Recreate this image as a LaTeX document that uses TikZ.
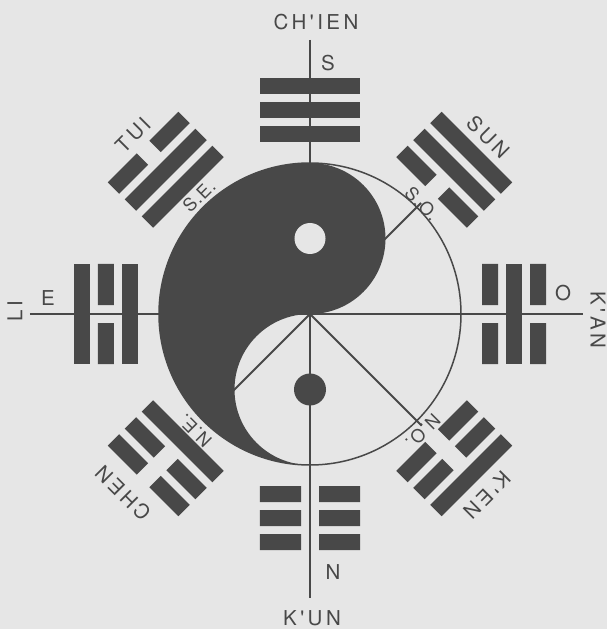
\documentclass[tikz,border=0pt]{standalone}
\usepackage{fontspec}
\setmainfont{TeX Gyre Heros}
\newfontfamily\spacedfont{TeX Gyre Heros}[LetterSpace=17]
\newfontfamily\smallspaced{TeX Gyre Heros}[LetterSpace=6]
\definecolor{ink}{RGB}{72,72,72}
\definecolor{paper}{RGB}{230,230,230}
\tikzset{
  lbl/.style={font=\spacedfont\fontsize{20.5}{24}\selectfont, text=ink, inner sep=0pt},
  dirlbl/.style={font=\spacedfont\fontsize{20.5}{24}\selectfont, text=ink, inner sep=0pt},
  sml/.style={font=\smallspaced\fontsize{18}{21}\selectfont, text=ink, inner sep=0pt},
  axisline/.style={draw=ink, line width=2pt},
  rimline/.style={draw=ink, line width=1.5pt},
}
% one bar of a trigram: radius, solid (1) or broken (0)
\newcommand\mybar[2]{%
  \ifnum#2=1
    \fill[ink] (-50,#1-8) rectangle (50,#1+8);
  \else
    \fill[ink] (-50,#1-8) rectangle (-9,#1+8) (9,#1-8) rectangle (50,#1+8);
  \fi}
% trigram: outward angle, inner, middle, outer
\newcommand\mytrigram[4]{%
  \begin{scope}[rotate=#1-90]
    \mybar{180}{#2}\mybar{204}{#3}\mybar{228}{#4}
  \end{scope}}
\begin{document}
\begin{tikzpicture}[x=1pt,y=1pt]
\fill[paper] (-310,-315) rectangle (297,314);
\useasboundingbox (-310,-315) rectangle (297,314);

% trigrams (Fu Xi order)
\mytrigram{90}{1}{1}{1}   % CH'IEN
\mytrigram{135}{1}{1}{0}  % TUI
\mytrigram{180}{1}{0}{1}  % LI
\mytrigram{225}{1}{0}{0}  % CHEN
\mytrigram{270}{0}{0}{0}  % K'UN
\mytrigram{315}{0}{0}{1}  % K'EN
\mytrigram{0}{0}{1}{0}    % K'AN
\mytrigram{45}{0}{1}{1}   % SUN

% yin-yang
\fill[ink] (0,151) arc[start angle=90, end angle=270, radius=151]
  arc[start angle=270, end angle=90, radius=75.5]
  arc[start angle=-90, end angle=90, radius=75.5] -- cycle;
\draw[rimline] (0,0) circle[radius=151];

% axes
\coordinate (c) at (0,0);
\coordinate (top) at (0,274);
\coordinate (bot) at (0,-284);
\coordinate (lft) at (-280,0);
\coordinate (rgt) at (273,0);
\coordinate (ur) at (45:157);
\coordinate (lr) at (-45:158);
\coordinate (ll) at (225:150);
\draw[axisline] (top) -- (bot);
\draw[axisline] (lft) -- (rgt);
\draw[axisline] (c) -- (ur);
\draw[axisline] (c) -- (lr);
\draw[axisline] (c) -- (ll);

% dots
\fill[paper] (0,75.5) circle[radius=15.5];
\fill[ink] (0,-75.5) circle[radius=16];

% trigram names
\node[lbl] (chien) at (6,292) {CH'IEN};
\node[lbl] (kun) at (2,-304) {K'UN};
\node[lbl, rotate=90] (li) at (-295,3) {LI};
\node[lbl, rotate=-90] (kan) at (288,-6) {K'AN};
\node[lbl, rotate=45] (tui) at (-177,179) {TUI};
\node[lbl, rotate=-45] (sun) at (178,177) {SUN};
\node[lbl, rotate=135] (chen) at (-187,-179) {CHEN};
\node[lbl, rotate=-135] (ken) at (177,-181) {K'EN};

% directions
\node[dirlbl] (s) at (18,251) {S};
\node[dirlbl] (n) at (23,-258) {N};
\node[dirlbl] (e) at (-262,16) {E};
\node[dirlbl] (o) at (253,21) {O};
\node[sml, rotate=45] (se) at (-111,118) {S.E.};
\node[sml, rotate=-45] (so) at (112,110) {S.O.};
\node[sml, rotate=-135] (no) at (113,-117) {N.O.};
\node[sml, rotate=135] (ne) at (-115,-117) {N.E.};
\end{tikzpicture}
\end{document}
